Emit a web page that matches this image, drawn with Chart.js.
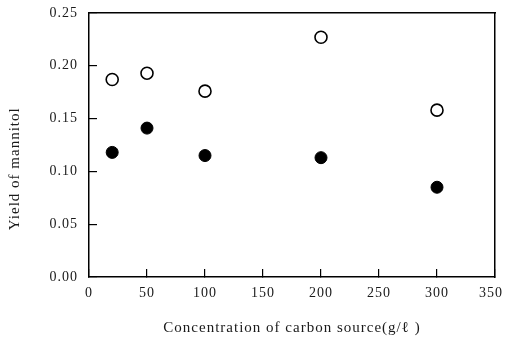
<!DOCTYPE html>
<html>
<head>
<meta charset="utf-8">
<script src="https://cdn.jsdelivr.net/npm/chart.js@4.4.1/dist/chart.umd.min.js"></script>
<style>
  html, body { margin: 0; padding: 0; background: #fff; }
</style>
</head>
<body>
<canvas id="myChart" width="505" height="341"></canvas>
<script>
// carbon source concentration (g/l)
const concentration = [20, 50, 100, 200, 300];
// open circles
const yieldOpen = [0.187, 0.193, 0.176, 0.227, 0.158];
// filled circles
const yieldFilled = [0.118, 0.141, 0.115, 0.113, 0.085];

const xTicks = [0, 50, 100, 150, 200, 250, 300, 350];
const yTicks = [0, 0.05, 0.10, 0.15, 0.20, 0.25];

const serif = 'Liberation Serif';
const ink = '#1a1a1a';

// scanned look: letters a bit spread out
const spacing = {
    id: 'spacing',
    beforeLayout(chart) { chart.ctx.letterSpacing = '1px'; },
    beforeDraw(chart) { chart.ctx.letterSpacing = '1px'; }
};

const graph = document.getElementById('myChart');

var scatter = new Chart(graph, {
    type: 'scatter',
    data: {
        datasets: [{
            label: 'open',
            data: concentration.map((c, i) => ({x: c, y: yieldOpen[i]})),
            pointRadius: 6,
            pointHoverRadius: 6,
            pointBackgroundColor: '#fff',
            pointBorderColor: '#000',
            pointBorderWidth: 1.6
        }, {
            label: 'filled',
            data: concentration.map((c, i) => ({x: c, y: yieldFilled[i]})),
            pointRadius: 6,
            pointHoverRadius: 6,
            pointBackgroundColor: '#000',
            pointBorderColor: '#000',
            pointBorderWidth: 1
        }]
    },
    options: {
        responsive: false,
        animation: false,
        layout: { padding: { top: 13, right: 10, left: 0, bottom: 0 } },
        plugins: {
            legend: { display: false },
            tooltip: { enabled: false }
        },
        scales: {
            x: {
                type: 'linear',
                min: 0,
                max: 350,
                afterBuildTicks(s) { s.ticks = xTicks.map(v => ({value: v})); },
                afterFit(s) { s.height = 64; s.paddingLeft = 0; s.paddingRight = 0; },
                border: { color: '#000', width: 1.5 },
                grid: { drawOnChartArea: false, tickLength: -8, color: '#000', lineWidth: 1.2 },
                ticks: {
                    padding: 16,
                    color: ink,
                    font: { family: serif, size: 14 },
                    // last label sits a little inside the frame, as in the print
                    callback: v => v === 350 ? '350\u2002' : String(v)
                },
                title: {
                    display: true,
                    text: 'Concentration of carbon source(g/ℓ )',
                    color: ink,
                    font: { family: serif, size: 15 },
                    padding: { top: 0, bottom: 4 }
                }
            },
            y: {
                type: 'linear',
                min: 0,
                max: 0.25,
                afterBuildTicks(s) { s.ticks = yTicks.map(v => ({value: v})); },
                afterFit(s) { s.width = 89; s.paddingTop = 0; s.paddingBottom = 0; },
                border: { color: '#000', width: 1.5 },
                grid: { drawOnChartArea: false, tickLength: -8, color: '#000', lineWidth: 1.2 },
                ticks: {
                    padding: 19,
                    color: ink,
                    font: { family: serif, size: 14 },
                    callback: v => v.toFixed(2)
                },
                title: {
                    display: true,
                    text: 'Yield of mannitol          ',
                    color: ink,
                    font: { family: serif, size: 15 },
                    padding: { top: 6, bottom: 0 }
                }
            },
            x2: {
                type: 'linear',
                position: 'top',
                min: 0,
                max: 350,
                afterFit(s) { s.height = 0; },
                border: { color: '#000', width: 1.5 },
                grid: { display: false },
                ticks: { display: false }
            },
            y2: {
                type: 'linear',
                position: 'right',
                min: 0,
                max: 0.25,
                afterFit(s) { s.width = 0; },
                border: { color: '#000', width: 1.5 },
                grid: { display: false },
                ticks: { display: false }
            }
        }
    },
    plugins: [spacing]
});
</script>
</body>
</html>
